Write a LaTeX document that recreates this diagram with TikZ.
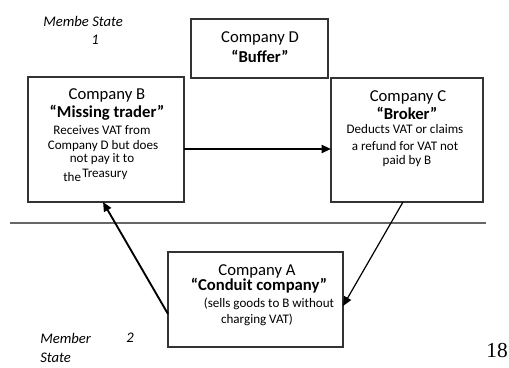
\documentclass[tikz,border=0pt]{standalone}
\usepackage{fontspec}
\setmainfont{Carlito}
\newfontfamily\numfont{Liberation Serif}
\usetikzlibrary{arrows.meta}
\begin{document}
\begin{tikzpicture}[x=0.75pt,y=-0.75pt,
  firm/.style={draw=black!80,line width=0.8pt},
  flow/.style={draw=black,line width=1.4pt,-{Triangle[length=7pt,width=6pt]}},
  txt/.style={inner sep=0pt,anchor=center},
  head/.style={txt,font=\fontsize{12.5}{14}\selectfont},
  role/.style={txt,font=\fontsize{12.5}{14}\selectfont\bfseries},
  note/.style={txt,font=\fontsize{9.8}{11}\selectfont},
  state/.style={txt,font=\fontsize{11}{13}\selectfont\itshape}]
\useasboundingbox (0,0) rectangle (509,367);

% company boxes
\draw[firm] (191,19) rectangle (328,78);
\draw[firm] (28,77) rectangle (184,202);
\draw[firm] (331,78) rectangle (483,202);
\draw[firm] (168,252) rectangle (343,347);
\coordinate (Bright) at (184,149);
\coordinate (Cleft) at (331,149);
\coordinate (Bbot) at (103,202);
\coordinate (Aleft) at (168,314);
\coordinate (Cbot) at (403,202);
\coordinate (Aright) at (343,306);

% border between the two member states
\draw[black!60,line width=1pt] (10,223) -- (486,223);

% Company D
\node[head] (dn) at (260,38) {Company D};
\node[role] (dr) at (260,56) {“Buffer”};

% Company B
\node[head] (bn) at (107,95) {Company B};
\node[role] (br) at (107,113) {“Missing trader”};
\node[note] (b1) at (102,130) {Receives VAT from};
\node[note] (b2) at (103,146) {Company D but does};
\node[note] (b3) at (102,159) {not pay it to};
\node[note,anchor=base west] (b4) at (63,181) {the};
\node[note,anchor=base west] (b5) at (82,177) {Treasury};

% Company C
\node[head] (cn) at (408,97) {Company C};
\node[role] (cr) at (407,113) {“Broker”};
\node[note] (c1) at (405,129) {Deducts VAT or claims};
\node[note] (c2) at (405,146) {a refund for VAT not};
\node[note] (c3) at (407,161) {paid by B};

% Company A
\node[head] (an) at (257,271) {Company A};
\node[role] (ar) at (259,286) {“Conduit company”};
\node[note] (a1) at (269,304) {(sells goods to B without};
\node[note] (a2) at (257,320) {charging VAT)};

% flows
\draw[flow] (Bright) -- (Cleft);
\draw[flow] (Aleft) -- (Bbot);
\draw[flow,line width=0.9pt] (Cbot) -- (Aright);

% member state labels
\node[state,anchor=west] (m1) at (43,21) {Membe State};
\node[state] (m1n) at (95,40) {1};
\node[state,anchor=west] (m2) at (40,338) {Member};
\node[state] (m2n) at (130,338) {2};
\node[state,anchor=west] (m2s) at (40,358) {State};
\node[txt,font=\numfont\fontsize{16}{18}\selectfont] (pg) at (497,351) {18};
\end{tikzpicture}
\end{document}
